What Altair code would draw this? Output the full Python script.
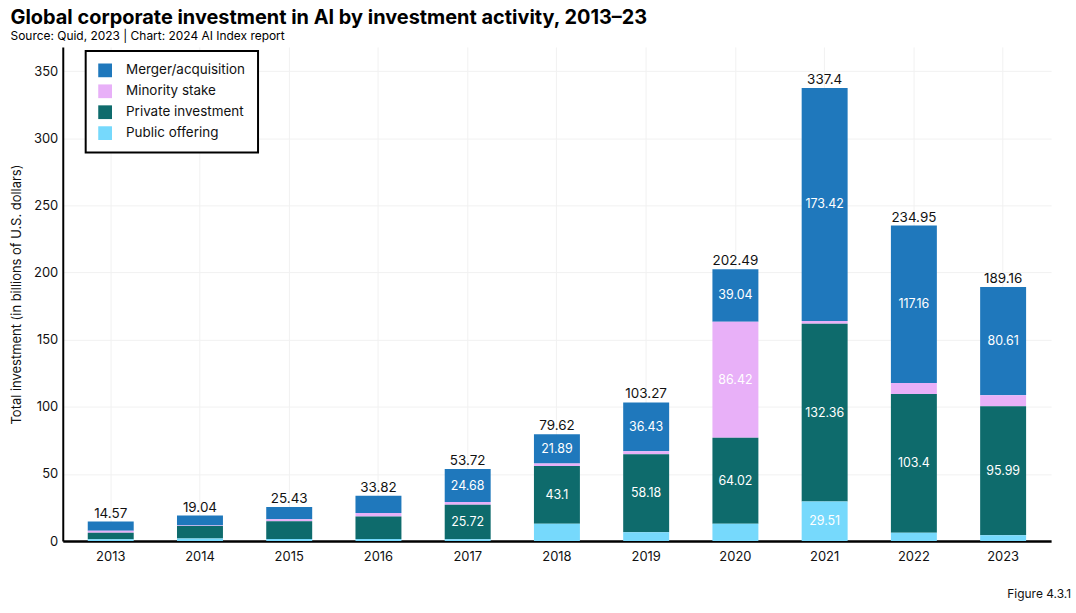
import altair as alt
import pandas as pd

years = ["2013", "2014", "2015", "2016", "2017", "2018", "2019", "2020", "2021", "2022", "2023"]
merger = [6.9, 7.5, 9.2, 12.9, 24.68, 21.89, 36.43, 39.04, 173.42, 117.16, 80.61]
minority = [1.5, 0.3, 1.4, 2.5, 2.0, 1.7, 2.1, 86.42, 2.11, 8.2, 8.2]
private = [4.7, 9.3, 13.3, 16.9, 25.72, 43.1, 58.18, 64.02, 132.36, 103.4, 95.99]
public = [1.47, 1.94, 1.53, 1.52, 1.32, 12.93, 6.56, 13.01, 29.51, 6.19, 4.36]
totals = [14.57, 19.04, 25.43, 33.82, 53.72, 79.62, 103.27, 202.49, 337.4, 234.95, 189.16]
footer = ["Figure 4.3.1"]

activities = ["Merger/acquisition", "Minority stake", "Private investment", "Public offering"]
colors = ["#1F78BC", "#E8B0F8", "#0E6B6C", "#76D9FC"]
stack_rank = {"Public offering": 0, "Private investment": 1, "Minority stake": 2, "Merger/acquisition": 3}

series = {
    "Merger/acquisition": merger,
    "Minority stake": minority,
    "Private investment": private,
    "Public offering": public,
}
rows = []
for name, vals in series.items():
    for y, v in zip(years, vals):
        rows.append({"year": y, "activity": name, "value": v, "rank": stack_rank[name]})
df = pd.DataFrame(rows)
tot = pd.DataFrame({"year": years, "total": totals})
foot = pd.DataFrame({"label": footer})

FONT = "Inter"

x_enc = alt.X("year:N", title=None,
              scale=alt.Scale(paddingInner=0.485, paddingOuter=0.28),
              axis=alt.Axis(labelAngle=0, ticks=False, labelPadding=9, labelFontSize=13,
                            labelColor="#111", domainColor="#000", domainWidth=2.5,
                            grid=True, gridColor="#f1f1f1", gridWidth=1))
y_scale = alt.Scale(domain=[0, 368], nice=False)

base = alt.Chart(df)

bars = base.mark_bar().encode(
    x=x_enc,
    y=alt.Y("value:Q", stack="zero", scale=y_scale,
            title="Total investment (in billions of U.S. dollars)",
            axis=alt.Axis(values=[0, 50, 100, 150, 200, 250, 300, 350], ticks=False,
                          labelPadding=5, labelFontSize=13, labelColor="#111",
                          titleFontSize=13, titleFontWeight="normal", titleColor="#111",
                          titlePadding=10, domainColor="#000", domainWidth=2,
                          gridColor="#f1f1f1", gridWidth=1)),
    color=alt.Color("activity:N", scale=alt.Scale(domain=activities, range=colors),
                    legend=alt.Legend(title=None, orient="none", legendX=23, legendY=4,
                                      symbolType="square", symbolSize=190,
                                      symbolStrokeWidth=0, labelFontSize=13.5,
                                      labelColor="#111", labelOffset=14, rowPadding=7,
                                      padding=12.5, strokeColor="#000",
                                      fillColor="white", labelLimit=300)),
    order=alt.Order("rank:Q", sort="ascending"),
)

seg_labels = base.transform_stack(
    stack="value", groupby=["year"], as_=["y0", "y1"],
    sort=[alt.SortField("rank", order="ascending")]
).transform_calculate(
    mid="(datum.y0 + datum.y1) / 2"
).transform_filter(
    "datum.value >= 20"
).mark_text(color="white", fontSize=12.5, font=FONT).encode(
    x="year:N",
    y=alt.Y("mid:Q", scale=y_scale),
    text=alt.Text("value:Q"),
)

tot_labels = alt.Chart(tot).mark_text(color="#111", fontSize=13.5, dy=-8, font=FONT).encode(
    x="year:N",
    y=alt.Y("total:Q", scale=y_scale),
    text=alt.Text("total:Q"),
)

fig = alt.Chart(foot).mark_text(color="#111", fontSize=12, fontWeight="normal",
                                align="right", font=FONT).encode(
    x=alt.value(1012), y=alt.value(549), text=alt.Text("label:N")
)

chart = alt.layer(bars, seg_labels, tot_labels, fig).properties(
    width=992, height=496,
    padding={"left": 10, "top": 7, "right": 5, "bottom": 5},
    title=alt.TitleParams(
        "Global corporate investment in AI by investment activity, 2013–23",
        subtitle="Source: Quid, 2023 | Chart: 2024 AI Index report",
        anchor="start", fontSize=20, fontWeight="bold", color="#000",
        subtitleFontSize=12, subtitleColor="#000", subtitlePadding=3, offset=5,
        font=FONT, subtitleFont=FONT,
    ),
).configure(font=FONT, background="white").configure_view(
    stroke=None
).configure_legend(strokeWidth=2)

chart.save("out.html", embed_options={"renderer": "svg", "actions": False})
